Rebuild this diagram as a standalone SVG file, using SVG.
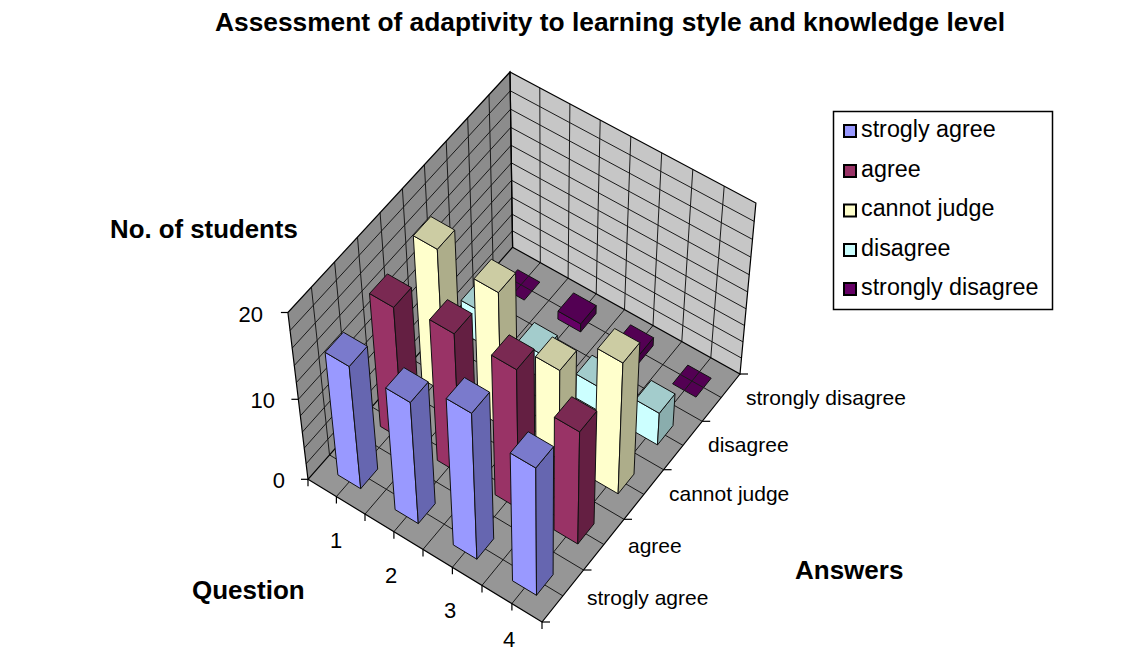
<svg xmlns="http://www.w3.org/2000/svg" width="1145" height="653" viewBox="0 0 1145 653">
<style>
.wl{fill:#8c8c8c}.wb{fill:#c6c6c6}.fl{fill:#969696}
.g{stroke:#1a1a1a;stroke-width:1;fill:none}
.ax{stroke:#000;stroke-width:1.2;fill:none}
.f{stroke:#111;stroke-width:1;stroke-linejoin:round}
.b1{fill:#9999FF}.b2{fill:#6666B0}.b3{fill:#7A7ACC}
.m1{fill:#993366}.m2{fill:#641F42}.m3{fill:#7A2952}
.y1{fill:#FFFFCC}.y2{fill:#ADAD8A}.y3{fill:#CCCCA3}
.c1{fill:#CCFFFF}.c2{fill:#8AADAD}.c3{fill:#A3CCCC}
.p1{fill:#660066}.p2{fill:#440044}.p3{fill:#530053}
text{font-family:"Liberation Sans",Arial,sans-serif;fill:#000}
.t{font-size:26px;font-weight:bold}
.at{font-size:26px;font-weight:bold}
.ns{font-size:25.8px;font-weight:bold}
.n{font-size:22px}
.cl{font-size:21px}
.lg{font-size:23.3px}
.ls{stroke:#000;stroke-width:2}
</style>
<rect width="1145" height="653" fill="#fff"/>
<text class="t" x="610" y="31" text-anchor="middle" textLength="790" lengthAdjust="spacingAndGlyphs">Assessment of adaptivity to learning style and knowledge level</text>

<g id="walls">
<polygon class="wl" points="308,479.3 512.6,247.2 510,72 287.9,312.5"/>
<polygon class="wb" points="512.6,247.2 740,374 755.9,203 510,72"/>
<polygon class="fl" points="308,479.3 542,622 740,374 512.6,247.2"/>
</g>

<g id="flat-bars">
<polygon class="f p3" points="502.0,287.5 524.3,300.1 539.8,282.1 517.6,269.7"/>
<polygon class="f p3" points="672.6,383.8 696.0,397.1 711.2,378.2 687.8,365.1"/>
</g>

<g id="gridlines" class="g">
<polyline points="306.1,463.8 512.4,230.8 741.5,358.1"/>
<polyline points="304.2,448.1 512.1,214.2 743.0,341.9"/>
<polyline points="302.3,432.1 511.9,197.4 744.5,325.5"/>
<polyline points="300.4,415.8 511.6,180.3 746.1,308.8"/>
<polyline points="298.4,399.3 511.4,162.9 747.6,291.9"/>
<polyline points="296.4,382.5 511.1,145.3 749.2,274.7"/>
<polyline points="294.3,365.5 510.8,127.4 750.9,257.2"/>
<polyline points="292.2,348.1 510.6,109.2 752.5,239.4"/>
<polyline points="290.1,330.5 510.3,90.8 754.2,221.4"/>
<line x1="329.5" y1="454.9" x2="311.4" y2="287.1"/>
<line x1="350.8" y1="430.7" x2="334.6" y2="262.0"/>
<line x1="371.9" y1="406.9" x2="357.5" y2="237.2"/>
<line x1="392.7" y1="383.3" x2="380.1" y2="212.7"/>
<line x1="413.2" y1="359.9" x2="402.4" y2="188.6"/>
<line x1="433.6" y1="336.9" x2="424.4" y2="164.7"/>
<line x1="453.7" y1="314.1" x2="446.2" y2="141.1"/>
<line x1="473.5" y1="291.5" x2="467.7" y2="117.8"/>
<line x1="493.2" y1="269.2" x2="489.0" y2="94.8"/>
<line x1="540.3" y1="262.6" x2="539.8" y2="87.9"/>
<line x1="568.1" y1="278.1" x2="569.9" y2="103.9"/>
<line x1="596.2" y1="293.8" x2="600.2" y2="120.1"/>
<line x1="624.5" y1="309.6" x2="630.8" y2="136.4"/>
<line x1="653.0" y1="325.5" x2="661.7" y2="152.8"/>
<line x1="681.8" y1="341.5" x2="692.8" y2="169.4"/>
<line x1="710.8" y1="357.7" x2="724.2" y2="186.1"/>
<line x1="336.4" y1="496.6" x2="540.3" y2="262.6"/>
<line x1="365.0" y1="514.1" x2="568.1" y2="278.1"/>
<line x1="393.9" y1="531.7" x2="596.2" y2="293.8"/>
<line x1="423.0" y1="549.4" x2="624.5" y2="309.6"/>
<line x1="452.4" y1="567.3" x2="653.0" y2="325.5"/>
<line x1="482.0" y1="585.4" x2="681.8" y2="341.5"/>
<line x1="511.9" y1="603.6" x2="710.8" y2="357.7"/>
<line x1="329.5" y1="454.9" x2="562.9" y2="595.9"/>
<line x1="350.8" y1="430.7" x2="583.5" y2="570.0"/>
<line x1="371.9" y1="406.9" x2="603.9" y2="544.5"/>
<line x1="392.7" y1="383.3" x2="624.0" y2="519.3"/>
<line x1="413.2" y1="359.9" x2="643.9" y2="494.4"/>
<line x1="433.6" y1="336.9" x2="663.6" y2="469.7"/>
<line x1="453.7" y1="314.1" x2="683.0" y2="445.4"/>
<line x1="473.5" y1="291.5" x2="702.2" y2="421.3"/>
<line x1="493.2" y1="269.2" x2="721.2" y2="397.5"/>
</g>

<g id="frame" class="ax">
<polygon points="308,479.3 512.6,247.2 510,72 287.9,312.5"/>
<polygon points="512.6,247.2 740,374 755.9,203 510,72"/>
<polyline points="308,479.3 542,622 740,374"/>
<line x1="301" y1="479.3" x2="308" y2="479.3"/>
<line x1="291.4" y1="399.3" x2="298.4" y2="399.3"/>
<line x1="280.9" y1="312.5" x2="287.9" y2="312.5"/>
<line x1="308" y1="479.3" x2="308" y2="486.3"/>
<line x1="336.4" y1="496.6" x2="336.4" y2="503.6"/>
<line x1="365.0" y1="514.1" x2="365.0" y2="521.1"/>
<line x1="393.9" y1="531.7" x2="393.9" y2="538.7"/>
<line x1="423.0" y1="549.4" x2="423.0" y2="556.4"/>
<line x1="452.4" y1="567.3" x2="452.4" y2="574.3"/>
<line x1="482.0" y1="585.4" x2="482.0" y2="592.4"/>
<line x1="511.9" y1="603.6" x2="511.9" y2="610.6"/>
<line x1="542" y1="622" x2="542" y2="629"/>
<line x1="542" y1="622" x2="550" y2="622"/>
<line x1="583.5" y1="570.0" x2="591.5" y2="570.0"/>
<line x1="624.0" y1="519.3" x2="632.0" y2="519.3"/>
<line x1="663.6" y1="469.7" x2="671.6" y2="469.7"/>
<line x1="702.2" y1="421.3" x2="710.2" y2="421.3"/>
<line x1="740" y1="374" x2="748" y2="374"/>
</g>

<g id="bar-q2-sd"><polygon class="f p1" points="557.9,319.1 580.6,331.9 580.7,323.9 558.0,311.1"/><polygon class="f p2" points="580.6,331.9 596.0,313.6 596.2,305.6 580.7,323.9"/><polygon class="f p3" points="558.0,311.1 580.7,323.9 596.2,305.6 573.5,292.9"/></g>
<g id="bar-q3-sd"><polygon class="f p1" points="614.8,351.2 637.8,364.2 638.2,356.2 615.1,343.2"/><polygon class="f p2" points="637.8,364.2 653.1,345.7 653.5,337.7 638.2,356.2"/><polygon class="f p3" points="615.1,343.2 638.2,356.2 653.5,337.7 630.5,324.8"/></g>

<g id="bar-q1-dis"><polygon class="f c1" points="462.4,332.8 484.8,345.6 483.8,313.3 461.1,300.4"/><polygon class="f c2" points="484.8,345.6 500.7,327.3 500.0,294.9 483.8,313.3"/><polygon class="f c3" points="461.1,300.4 483.8,313.3 500.0,294.9 477.3,282.0"/></g>
<g id="bar-q2-dis"><polygon class="f c1" points="518.6,365.1 541.4,378.2 541.3,354.2 518.3,341.1"/><polygon class="f c2" points="541.4,378.2 557.2,359.5 557.3,335.5 541.3,354.2"/><polygon class="f c3" points="518.3,341.1 541.3,354.2 557.3,335.5 534.3,322.4"/></g>
<g id="bar-q3-dis"><polygon class="f c1" points="575.8,397.9 599.0,411.2 599.6,387.5 576.2,374.1"/><polygon class="f c2" points="599.0,411.2 614.6,392.3 615.4,368.4 599.6,387.5"/><polygon class="f c3" points="576.2,374.1 599.6,387.5 615.4,368.4 592.0,355.2"/></g>
<g id="bar-q4-dis"><polygon class="f c1" points="634.0,431.4 657.5,444.9 659.3,413.3 635.4,399.7"/><polygon class="f c2" points="657.5,444.9 673.0,425.6 675.0,393.9 659.3,413.3"/><polygon class="f c3" points="635.4,399.7 659.3,413.3 675.0,393.9 651.2,380.4"/></g>

<g id="bar-q1-cj"><polygon class="f y1" points="421.8,379.1 444.4,392.2 437.3,249.3 413.3,235.7"/><polygon class="f y2" points="444.4,392.2 460.6,373.4 454.7,230.0 437.3,249.3"/><polygon class="f y3" points="413.3,235.7 437.3,249.3 454.7,230.0 430.8,216.5"/></g>
<g id="bar-q2-cj"><polygon class="f y1" points="478.4,412.1 501.3,425.5 498.4,292.6 474.0,278.8"/><polygon class="f y2" points="501.3,425.5 517.5,406.4 515.6,272.9 498.4,292.6"/><polygon class="f y3" points="474.0,278.8 498.4,292.6 515.6,272.9 491.3,259.2"/></g>
<g id="bar-q3-cj"><polygon class="f y1" points="535.9,445.8 559.2,459.4 559.8,370.5 535.5,356.6"/><polygon class="f y2" points="559.2,459.4 575.2,440.0 576.5,350.7 559.8,370.5"/><polygon class="f y3" points="535.5,356.6 559.8,370.5 576.5,350.7 552.3,336.9"/></g>
<g id="bar-q4-cj"><polygon class="f y1" points="594.4,480.0 618.1,493.8 622.9,363.0 597.7,348.7"/><polygon class="f y2" points="618.1,493.8 634.0,474.1 639.8,342.6 622.9,363.0"/><polygon class="f y3" points="597.7,348.7 622.9,363.0 639.8,342.6 614.6,328.5"/></g>

<g id="bar-q1-agree"><polygon class="f m1" points="380.4,426.4 403.0,439.9 393.6,307.4 369.5,293.5"/><polygon class="f m2" points="403.0,439.9 419.7,420.7 411.4,287.6 393.6,307.4"/><polygon class="f m3" points="369.5,293.5 393.6,307.4 411.4,287.6 387.4,273.9"/></g>
<g id="bar-q2-agree"><polygon class="f m1" points="437.3,460.3 460.3,474.0 454.2,333.8 429.6,319.6"/><polygon class="f m2" points="460.3,474.0 476.8,454.5 471.9,313.6 454.2,333.8"/><polygon class="f m3" points="429.6,319.6 454.2,333.8 471.9,313.6 447.4,299.6"/></g>
<g id="bar-q3-agree"><polygon class="f m1" points="495.1,494.7 518.5,508.7 516.6,369.7 491.5,355.2"/><polygon class="f m2" points="518.5,508.7 534.9,488.8 534.1,349.1 516.6,369.7"/><polygon class="f m3" points="491.5,355.2 516.6,369.7 534.1,349.1 509.1,334.8"/></g>
<g id="bar-q4-agree"><polygon class="f m1" points="554.0,529.8 577.8,544.0 579.6,431.9 554.4,417.3"/><polygon class="f m2" points="577.8,544.0 594.0,523.8 596.8,411.1 579.6,431.9"/><polygon class="f m3" points="554.4,417.3 579.6,431.9 596.8,411.1 571.7,396.7"/></g>

<g id="bar-q1-sa"><polygon class="f b1" points="337.9,474.9 360.7,488.7 349.2,366.5 325.1,352.3"/><polygon class="f b2" points="360.7,488.7 377.7,469.0 367.3,346.2 349.2,366.5"/><polygon class="f b3" points="325.1,352.3 349.2,366.5 367.3,346.2 343.3,332.2"/></g>
<g id="bar-q2-sa"><polygon class="f b1" points="395.1,509.6 418.3,523.6 410.3,402.5 385.7,388.0"/><polygon class="f b2" points="418.3,523.6 435.2,503.6 428.3,381.9 410.3,402.5"/><polygon class="f b3" points="385.7,388.0 410.3,402.5 428.3,381.9 403.8,367.5"/></g>
<g id="bar-q3-sa"><polygon class="f b1" points="453.3,544.9 476.9,559.2 471.6,413.3 446.2,398.5"/><polygon class="f b2" points="476.9,559.2 493.7,538.8 489.6,392.2 471.6,413.3"/><polygon class="f b3" points="446.2,398.5 471.6,413.3 489.6,392.2 464.4,377.5"/></g>
<g id="bar-q4-sa"><polygon class="f b1" points="512.5,580.8 536.5,595.3 535.8,468.0 510.2,453.0"/><polygon class="f b2" points="536.5,595.3 553.1,574.6 553.6,446.6 535.8,468.0"/><polygon class="f b3" points="510.2,453.0 535.8,468.0 553.6,446.6 528.1,431.7"/></g>

<g id="axis-labels">
<text class="n" x="263" y="321.5" text-anchor="end">20</text>
<text class="n" x="275" y="408" text-anchor="end">10</text>
<text class="n" x="285" y="488" text-anchor="end">0</text>
<text class="n" x="336" y="548" text-anchor="middle">1</text>
<text class="n" x="391" y="583" text-anchor="middle">2</text>
<text class="n" x="450" y="618" text-anchor="middle">3</text>
<text class="n" x="509" y="647" text-anchor="middle">4</text>
<text class="cl" x="746" y="405">strongly disagree</text>
<text class="cl" x="708" y="452">disagree</text>
<text class="cl" x="669" y="501">cannot judge</text>
<text class="cl" x="628" y="553">agree</text>
<text class="cl" x="587" y="605">strogly agree</text>
<text class="ns" x="110" y="238">No. of students</text>
<text class="at" x="192" y="599">Question</text>
<text class="at" x="795" y="579">Answers</text>
</g>

<g id="legend">
<rect x="833.5" y="111.5" width="219" height="198" fill="#fff" stroke="#000" stroke-width="1.5"/>
<rect class="ls" x="844" y="125" width="12" height="12" fill="#9999FF"/>
<rect class="ls" x="844" y="165" width="12" height="12" fill="#993366"/>
<rect class="ls" x="844" y="204.5" width="12" height="12" fill="#FFFFCC"/>
<rect class="ls" x="844" y="244" width="12" height="12" fill="#CCFFFF"/>
<rect class="ls" x="844" y="283" width="12" height="12" fill="#660066"/>
<text class="lg" x="861" y="137">strogly agree</text>
<text class="lg" x="861" y="177">agree</text>
<text class="lg" x="861" y="216">cannot judge</text>
<text class="lg" x="861" y="256">disagree</text>
<text class="lg" x="861" y="295">strongly disagree</text>
</g>
</svg>
